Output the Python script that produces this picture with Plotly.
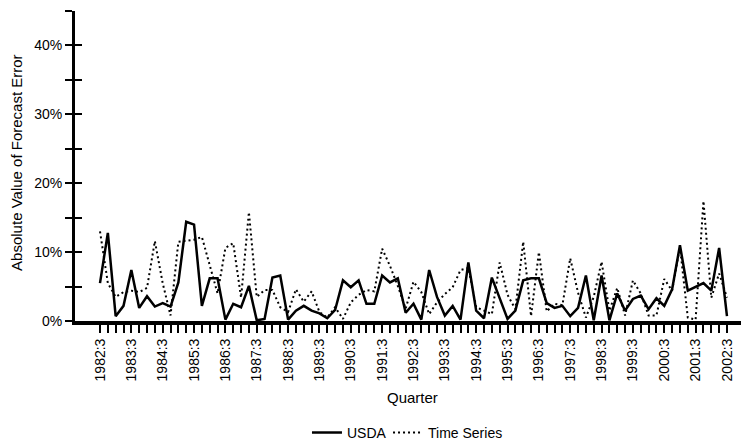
import plotly.graph_objects as go

# Quarters 1982:3 .. 2002:3
quarters = [f"{y}:{q}" for y in range(1982, 2003) for q in (1, 2, 3, 4)
            if not (y == 1982 and q < 3) and not (y == 2002 and q > 3)]

usda = [5.5, 12.8, 0.7, 2.2, 7.4, 1.9, 3.6, 2.1, 2.6, 2.1,
        5.6, 14.4, 14.0, 2.2, 6.2, 6.2, 0.2, 2.5, 2.0, 5.1,
        0.1, 0.3, 6.3, 6.6, 0.2, 1.5, 2.2, 1.5, 1.1, 0.4,
        1.6, 5.9, 4.9, 5.9, 2.5, 2.5, 6.6, 5.6, 6.2, 1.2,
        2.5, 0.2, 7.4, 3.5, 0.8, 2.2, 0.2, 8.5, 1.5, 0.4,
        6.3, 3.2, 0.3, 1.5, 5.9, 6.2, 6.2, 2.6, 1.9, 2.2,
        0.7, 1.9, 6.6, 0.1, 6.6, 0.1, 4.0, 1.5, 3.2, 3.7,
        1.7, 3.3, 2.2, 4.6, 11.0, 4.4, 5.0, 5.5, 4.4, 10.6,
        0.7]

time_series = [13.0, 5.5, 3.5, 4.2, 4.4, 4.2, 4.8, 11.6, 5.5, 0.8,
               11.5, 11.6, 11.8, 12.2, 8.0, 4.0, 10.6, 11.3, 3.4, 15.8,
               3.5, 4.5, 4.5, 2.0, 1.3, 4.6, 2.8, 4.3, 1.3, 0.5,
               2.0, 0.3, 2.7, 3.8, 4.5, 4.3, 10.5, 8.0, 5.1, 1.8,
               5.7, 4.2, 1.0, 2.7, 3.9, 4.9, 7.4, 7.7, 2.0, 1.5,
               1.0, 8.5, 3.8, 1.7, 11.5, 0.7, 10.0, 1.4, 2.5, 2.3,
               9.1, 4.1, 0.5, 3.5, 8.6, 1.5, 4.8, 0.8, 5.9, 4.0,
               0.8, 0.8, 6.1, 4.4, 10.8, 0.5, 0.2, 17.4, 3.4, 6.9,
               3.4]

y_ticks = [0, 5, 10, 15, 20, 25, 30, 35, 40, 45]
y_ticktext = ["0%", "", "10%", "", "20%", "", "30%", "", "40%", ""]

idx = list(range(len(quarters)))
x_ticktext = [q if i % 4 == 0 else "" for i, q in enumerate(quarters)]

FONT = "Liberation Sans, Arial, sans-serif"

fig = go.Figure()
fig.add_trace(go.Scatter(x=idx, y=usda, mode="lines", name="USDA",
                         line=dict(color="black", width=2.5),
                         yaxis="y", legend="legend"))
fig.add_trace(go.Scatter(x=idx, y=time_series, mode="lines", name="Time Series",
                         line=dict(color="black", width=2, dash="2px,3px"),
                         yaxis="y2", legend="legend2"))

legend_common = dict(orientation="h", y=-0.361, yanchor="middle",
                     xanchor="left", font=dict(size=14),
                     bgcolor="rgba(0,0,0,0)")

fig.update_layout(
    width=746, height=442,
    margin=dict(l=75, r=5, t=11, b=121, autoexpand=False),
    paper_bgcolor="white", plot_bgcolor="white",
    font=dict(family=FONT, size=14, color="black"),
    showlegend=True,
    legend=dict(x=0.3483, **legend_common),
    legend2=dict(x=0.470, **legend_common),
    xaxis=dict(range=[-3.19, 81.79], tickmode="array", tickvals=idx,
               ticktext=x_ticktext, tickangle=-90, ticks="outside",
               ticklen=8, tickwidth=2, tickcolor="black",
               showline=True, linewidth=4, linecolor="black",
               showgrid=False, zeroline=False, automargin=False),
    yaxis=dict(range=[0, 45], tickmode="array", tickvals=y_ticks,
               ticktext=y_ticktext, ticks="outside", ticklen=7,
               tickwidth=2, tickcolor="black", showline=True,
               linewidth=3, linecolor="black", showgrid=False,
               zeroline=False, automargin=False),
    yaxis2=dict(range=[0, 45], overlaying="y", side="left",
                tickmode="array", tickvals=y_ticks, ticks="inside",
                ticklen=7, tickwidth=2, tickcolor="black",
                showticklabels=False, showline=False, showgrid=False,
                zeroline=False),
    annotations=[
        dict(text="Quarter", xref="paper", yref="paper", x=0.5075,
             y=-0.2476, xanchor="center", yanchor="middle",
             showarrow=False, font=dict(size=15)),
        dict(text="Absolute Value of Forecast Error", xref="paper",
             yref="paper", x=0, xshift=-58, y=0.51, xanchor="center",
             yanchor="middle", textangle=-90, showarrow=False,
             font=dict(size=15)),
    ],
)

fig.write_html("out.html")
